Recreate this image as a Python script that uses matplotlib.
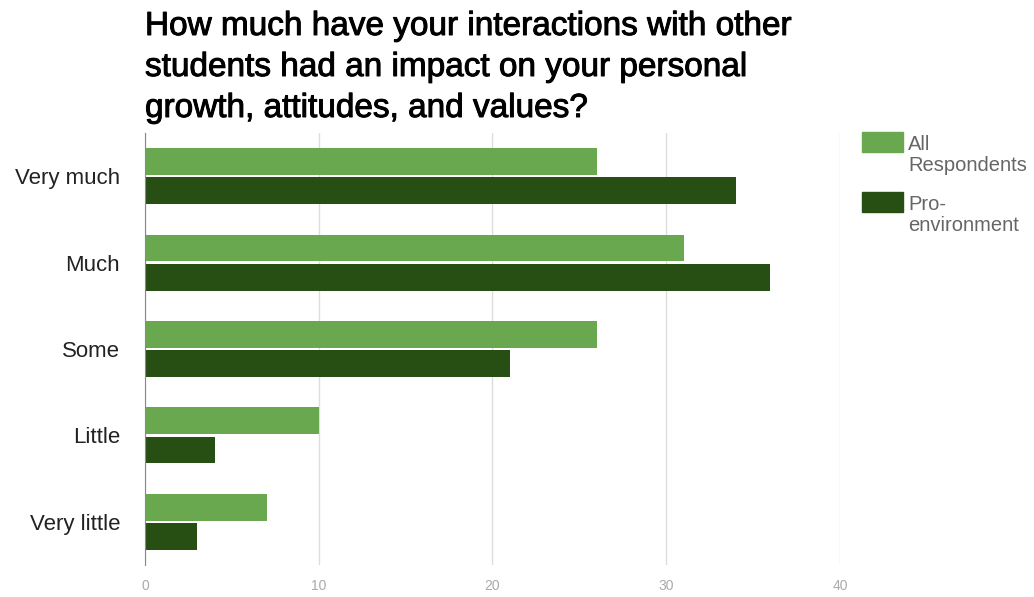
import numpy as np
import matplotlib.pyplot as plt
import matplotlib.patheffects as pe
from matplotlib.patches import Rectangle

plt.rcParams['font.family'] = ['Liberation Sans', 'DejaVu Sans']

kategorier = ["Very much", "Much", "Some", "Little", "Very little"]
alle = [26, 31, 26, 10, 7]
miljo = [34, 36, 21, 4, 3]
serier = [["All", "Respondents"], ["Pro-", "environment"]]
farger = ["#6aa84f", "#274e13"]

W, H = 1034, 597
fig = plt.figure(figsize=(W / 100, H / 100), dpi=100)
ax = fig.add_axes([145 / W, 32 / H, 695 / W, 432 / H])

y = np.arange(len(kategorier))
h = 0.31
ax.barh(y - 0.17, alle, height=h, color=farger[0], zorder=3)
ax.barh(y + 0.17, miljo, height=h, color=farger[1], zorder=3)

ax.set_xlim(0, 40)
ax.set_ylim(len(kategorier) - 0.5, -0.5)
ax.set_yticks(y)
ax.set_yticklabels(kategorier, fontsize=16, color="#222222")
ax.set_xticks([0, 10, 20, 30, 40])
ax.tick_params(axis="x", colors="#aaaaaa", labelsize=10, length=0, pad=10)
ax.tick_params(axis="y", length=0, pad=18)
ax.xaxis.grid(True, color="#dddddd", linewidth=1, zorder=0)
for s in ["top", "right", "bottom"]:
    ax.spines[s].set_visible(False)
ax.spines["left"].set_color("#888888")
ax.spines["left"].set_zorder(4)

# tittel over tre linjer, litt kraftigere strek
tittel = ["How much have your interactions with other",
          "students had an impact on your personal",
          "growth, attitudes, and values?"]
for i, linje in enumerate(tittel):
    fig.text(145 / W, 1 - (35 + i * 41) / H, linje, fontsize=24,
             va="baseline", ha="left", color="#000000",
             path_effects=[pe.withStroke(linewidth=0.7, foreground="#000000")])

# forklaring til høyre
for i, (linjer, farge) in enumerate(zip(serier, farger)):
    topp = 132 + i * 60
    fig.patches.append(Rectangle((862 / W, 1 - (topp + 20) / H), 41 / W, 20 / H,
                                 transform=fig.transFigure, color=farge))
    for j, tekst in enumerate(linjer):
        fig.text(908 / W, 1 - (topp + 18 + j * 21) / H, tekst, fontsize=14.5,
                 color="#666666", va="baseline", ha="left")

fig.savefig("out.png")
